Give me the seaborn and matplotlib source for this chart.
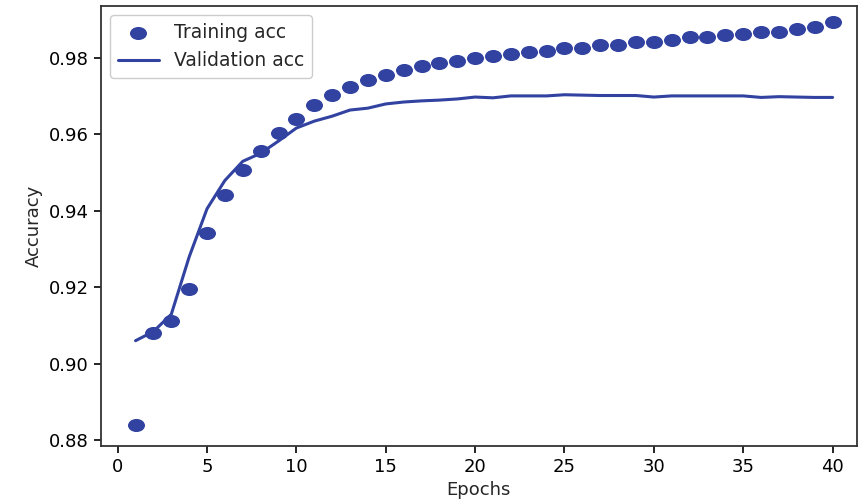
import numpy as np
import pandas as pd
import matplotlib
matplotlib.use('Agg')
import matplotlib.pyplot as plt
import seaborn as sns
from matplotlib.path import Path
from matplotlib.transforms import Affine2D

epochs = list(range(1, 41))
train_acc = [0.8839, 0.9079, 0.9111, 0.9195, 0.9342, 0.9440, 0.9505, 0.9555, 0.9603, 0.9640,
             0.9676, 0.9703, 0.9724, 0.9742, 0.9755, 0.9768, 0.9779, 0.9787, 0.9792, 0.9800,
             0.9805, 0.9810, 0.9816, 0.9818, 0.9824, 0.9826, 0.9832, 0.9834, 0.9840, 0.9842,
             0.9847, 0.9853, 0.9855, 0.9860, 0.9863, 0.9866, 0.9868, 0.9874, 0.9879, 0.9892]
val_acc = [0.9060, 0.9084, 0.9129, 0.9279, 0.9405, 0.9479, 0.9529, 0.9550, 0.9582, 0.9616,
           0.9634, 0.9647, 0.9663, 0.9668, 0.9679, 0.9684, 0.9687, 0.9689, 0.9692, 0.9697,
           0.9695, 0.9700, 0.9700, 0.9700, 0.9703, 0.9702, 0.9701, 0.9701, 0.9701, 0.9697,
           0.9700, 0.9700, 0.9700, 0.9700, 0.9700, 0.9696, 0.9698, 0.9697, 0.9696, 0.9696]

df = pd.DataFrame({'epoch': epochs, 'train': train_acc, 'val': val_acc})
color = '#3142a0'

# the reference image is stretched sideways, so the dots are a bit oval
oval = Path.unit_circle().transformed(Affine2D().scale(1.3, 1.0))

sns.set_style('ticks')
plt.rcParams['font.family'] = ['DejaVu Sans']

fig = plt.figure(figsize=(8.68, 5.01), dpi=100)
ax = fig.add_axes([0.116, 0.11, 0.871, 0.878])

sns.scatterplot(data=df, x='epoch', y='train', color=color, s=150, linewidth=0,
                marker=oval, label='Training acc', ax=ax)
sns.lineplot(data=df, x='epoch', y='val', color=color, linewidth=2.2,
             label='Validation acc', ax=ax)

ax.set_xlim(-0.95, 41.35)
ax.set_ylim(0.8785, 0.9935)
ax.set_xticks(range(0, 41, 5))
ax.set_yticks([0.88, 0.90, 0.92, 0.94, 0.96, 0.98])
ax.set_yticklabels(['0.88', '0.90', '0.92', '0.94', '0.96', '0.98'])
ax.tick_params(labelsize=13, length=5, width=1.2, colors='black')
ax.set_xlabel('Epochs', fontsize=13)
ax.set_ylabel('Accuracy', fontsize=13)
for sp in ax.spines.values():
    sp.set_visible(True)
    sp.set_color('#333333')
    sp.set_linewidth(1.3)

ax.legend(loc='upper left', fontsize=13.5, frameon=True, edgecolor='#cccccc',
          framealpha=1, handlelength=2.2)

fig.savefig('out.png', dpi=100)
